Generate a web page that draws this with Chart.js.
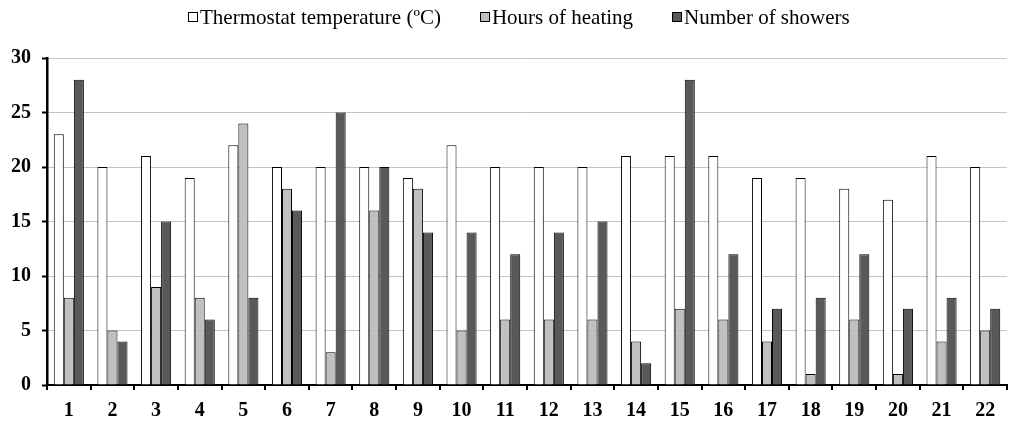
<!DOCTYPE html>
<html>
<head>
<meta charset="utf-8">
<script src="https://cdn.jsdelivr.net/npm/chart.js@4.4.0/dist/chart.umd.min.js"></script>
<style>
    html, body { margin: 0; padding: 0; background: #fff; }
    #wrap { position: relative; width: 1013px; height: 421px; }
    #legend {
        position: absolute; left: 188px; top: 4px; height: 26px;
        display: flex; align-items: center;
        font-family: "Liberation Serif", "Times New Roman", serif; font-size: 21px; color: #000;
    }
    .item { display: flex; align-items: center; margin-right: 39px; white-space: nowrap; }
    .box { width: 8px; height: 8px; border: 1px solid #000; margin-right: 2px; }
</style>
</head>
<body>
<div id="wrap">
    <div id="legend"></div>
    <canvas id="chart"></canvas>
</div>
<script>
const days = ['1', '2', '3', '4', '5', '6', '7', '8', '9', '10', '11', '12', '13', '14', '15', '16', '17', '18', '19', '20', '21', '22'];
const thermostat = [23, 20, 21, 19, 22, 20, 20, 20, 19, 22, 20, 20, 20, 21, 21, 21, 19, 19, 18, 17, 21, 20];
const heatingHours = [8, 5, 9, 8, 24, 18, 3, 16, 18, 5, 6, 6, 6, 4, 7, 6, 4, 1, 6, 1, 4, 5];
const showers = [28, 4, 15, 6, 8, 16, 25, 20, 14, 14, 12, 14, 15, 2, 28, 12, 7, 8, 12, 7, 8, 7];

const serif = '"Liberation Serif", "Times New Roman", serif';

const ctx = document.getElementById('chart').getContext('2d');
const chart = new Chart(ctx, {
    type: 'bar',
    data: {
        labels: days,
        datasets: [{
            label: 'Thermostat temperature (ºC)',
            data: thermostat,
            backgroundColor: '#ffffff',
            borderColor: '#000000',
            borderWidth: 1
        }, {
            label: 'Hours of heating',
            data: heatingHours,
            backgroundColor: '#c0c0c0',
            borderColor: '#000000',
            borderWidth: 1
        }, {
            label: 'Number of showers',
            data: showers,
            backgroundColor: '#595959',
            borderColor: '#000000',
            borderWidth: 1
        }]
    },
    options: {
        responsive: true,
        maintainAspectRatio: false,
        animation: false,
        layout: { padding: { left: 0, right: 6, top: 58, bottom: -11 } },
        plugins: {
            tooltip: { enabled: false },
            legend: { display: false }
        },
        datasets: {
            bar: { categoryPercentage: 0.69, barPercentage: 1.0 }
        },
        scales: {
            x: {
                grid: { display: true, drawOnChartArea: false, color: '#000', lineWidth: 2, tickLength: 5, offset: true },
                border: { color: '#000', width: 2 },
                ticks: {
                    font: { family: serif, size: 20, weight: 'bold', lineHeight: 1 },
                    color: '#000',
                    padding: 11
                }
            },
            y: {
                min: 0,
                max: 30,
                ticks: {
                    stepSize: 5,
                    font: { family: serif, size: 20, weight: 'bold' },
                    color: '#000',
                    padding: 11
                },
                grid: { color: '#c4c4c4', lineWidth: 1, tickLength: 5, tickColor: '#000', tickWidth: 2 },
                border: { color: '#000', width: 2.5 }
            }
        }
    }
});

// Легенда в HTML
const legend = document.getElementById('legend');
chart.data.datasets.forEach(ds => {
    const item = document.createElement('div');
    item.className = 'item';
    item.innerHTML = `<span class="box" style="background:${ds.backgroundColor}"></span><span>${ds.label}</span>`;
    legend.appendChild(item);
});
</script>
</body>
</html>
